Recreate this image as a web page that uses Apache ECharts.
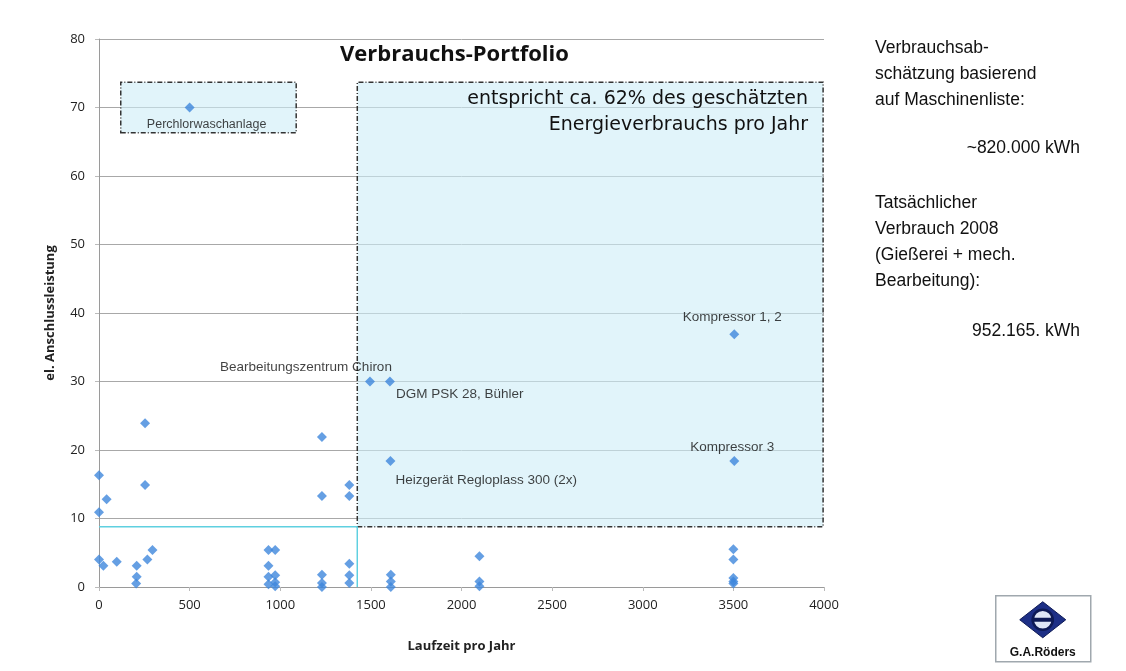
<!DOCTYPE html>
<html>
<head>
<meta charset="utf-8">
<script src="https://cdn.jsdelivr.net/npm/echarts@6/dist/echarts.min.js"></script>
<style>
html,body{margin:0;padding:0;background:#fff;}
#c{width:1126px;height:671px;}
</style>
</head>
<body>
<div id="c"></div>
<script>
// ---- data ----
const runtimeHours = [0, 0, 42, 254, 254, 0, 24, 98, 208, 208, 205, 267, 295,
  935, 972, 935, 935, 972, 935, 972, 972,
  1230, 1230, 1230, 1230, 1230,
  1381, 1381, 1381, 1381, 1381,
  1610, 1610, 1610,
  2099, 2099, 2099,
  3500, 3500, 3500, 3500, 3500];
const powerKW = [16.3, 10.9, 12.8, 23.9, 14.9, 4.0, 3.1, 3.7, 3.1, 1.5, 0.5, 4.0, 5.4,
  5.4, 5.4, 3.1, 1.5, 1.7, 0.4, 0.7, 0.1,
  21.9, 13.3, 1.8, 0.6, 0.0,
  14.9, 13.3, 3.4, 1.7, 0.6,
  1.8, 0.8, 0.0,
  4.5, 0.8, 0.1,
  5.5, 4.0, 1.3, 0.8, 0.5];
const labeledNames = ["Perchlorwaschanlage", "Bearbeitungszentrum Chiron", "DGM PSK 28, Bühler",
  "Heizgerät Regloplass 300 (2x)", "Kompressor 1, 2", "Kompressor 3"];
const labeledRuntime = [500, 1495, 1605, 1608, 3505, 3505];
const labeledPower = [70, 30, 30, 18.4, 36.9, 18.4];
// highlighted regions [x1, y1, x2, y2]
const smallBox = [120, 66.3, 1088, 73.7];
const bigBox = [1425, 8.8, 3995, 73.7];
const thresholdRuntime = 1425;
const thresholdPower = 8.8;
const xTicks = [0, 500, 1000, 1500, 2000, 2500, 3000, 3500, 4000];
const yTicks = [0, 10, 20, 30, 40, 50, 60, 70, 80];

// ---- label styles (offsets from point) ----
const labelStyle = {
  "Perchlorwaschanlage": {align: 'center', offset: [17, 17], fontSize: 12.5},
  "Bearbeitungszentrum Chiron": {align: 'center', offset: [-64, -14]},
  "DGM PSK 28, Bühler": {align: 'left', offset: [6, 13]},
  "Heizgerät Regloplass 300 (2x)": {align: 'left', offset: [5, 19]},
  "Kompressor 1, 2": {align: 'center', offset: [-2, -17]},
  "Kompressor 3": {align: 'center', offset: [-2, -14]}
};

const chart = echarts.init(document.getElementById('c'));
const pts = runtimeHours.map((x, i) => [x, powerKW[i]]);
const labeledPts = labeledNames.map((n, i) => {
  const s = labelStyle[n];
  return {
    name: n,
    value: [labeledRuntime[i], labeledPower[i]],
    label: {
      show: true, formatter: n, position: 'inside',
      align: s.align, verticalAlign: 'middle', offset: s.offset,
      fontFamily: 'Liberation Sans, Arial', fontSize: s.fontSize || 13.5, color: '#111',
      textBorderWidth: 0, textBorderColor: 'transparent'
    }
  };
});

const boxStyle = {
  color: 'rgba(205,236,246,0.6)',
  borderColor: '#333',
  borderWidth: 1.5,
  borderType: [5, 2, 1, 2]
};

const sym = 'diamond';
const blue = '#3f87dc';
const txt = (o) => Object.assign({type: 'text', z: 100}, o);

chart.setOption({
  animation: false,
  grid: {left: 99, right: 302, top: 39, bottom: 84},
  xAxis: {
    type: 'value', min: 0, max: 4000, interval: 500,
    name: 'Laufzeit pro Jahr', nameLocation: 'middle', nameGap: 53,
    nameTextStyle: {fontFamily: 'Open Sans', fontWeight: 'bold', fontSize: 13, color: '#222'},
    axisLine: {show: true, lineStyle: {color: '#9a9a9a'}},
    axisTick: {show: true, length: 4, lineStyle: {color: '#bbb'}},
    axisLabel: {fontFamily: 'Open Sans', fontSize: 13, color: '#222', margin: 12,
      formatter: v => xTicks.includes(v) ? String(v) : ''},
    splitLine: {show: false}
  },
  yAxis: {
    type: 'value', min: 0, max: 80, interval: 10,
    name: 'el. Anschlussleistung', nameLocation: 'middle', nameGap: 42,
    nameTextStyle: {fontFamily: 'Open Sans', fontWeight: 'bold', fontSize: 13, color: '#222'},
    axisLine: {show: true, lineStyle: {color: '#9a9a9a'}},
    axisTick: {show: true, length: 4, lineStyle: {color: '#bbb'}},
    axisLabel: {fontFamily: 'Open Sans', fontSize: 13, color: '#222', margin: 14,
      formatter: v => yTicks.includes(v) ? String(v) : ''},
    splitLine: {show: true, lineStyle: {color: '#a8a8a8', width: 1}}
  },
  graphic: [
    txt({left: 340, top: 44, style: {text: 'Verbrauchs-Portfolio', font: 'bold 22px "Open Sans"', fill: '#111'}}),
    txt({right: 318, top: 90, style: {text: 'entspricht ca. 62% des geschätzten', font: '19px "DejaVu Sans"', fill: '#111', textAlign: 'right'}}),
    txt({right: 318, top: 116, style: {text: 'Energieverbrauchs pro Jahr', font: '19px "DejaVu Sans"', fill: '#111', textAlign: 'right'}}),
    txt({left: 875, top: 35, style: {text: 'Verbrauchsab-\nschätzung basierend\nauf Maschinenliste:', font: '17.5px "Liberation Sans"', lineHeight: 26, fill: '#111'}}),
    txt({right: 46, top: 139, style: {text: '~820.000 kWh', font: '17.5px "Liberation Sans"', fill: '#111', textAlign: 'right'}}),
    txt({left: 875, top: 190, style: {text: 'Tatsächlicher\nVerbrauch 2008\n(Gießerei + mech.\nBearbeitung):', font: '17.5px "Liberation Sans"', lineHeight: 26, fill: '#111'}}),
    txt({right: 46, top: 322, style: {text: '952.165. kWh', font: '17.5px "Liberation Sans"', fill: '#111', textAlign: 'right'}}),
    // logo
    {type: 'group', left: 995, top: 595, z: 100, children: [
      {type: 'rect', shape: {x: 0, y: 0, width: 95, height: 66}, style: {fill: '#fff', stroke: '#a0a8ae', lineWidth: 1.5}},
      {type: 'polygon', shape: {points: [[47, 6], [70, 24], [47, 42], [24, 24]]}, style: {fill: '#1d2f86', stroke: '#0e1a55', lineWidth: 1}},
      {type: 'circle', shape: {cx: 47, cy: 24, r: 10}, style: {fill: '#dfe6f5', stroke: '#0e1a55', lineWidth: 2.5}},
      {type: 'rect', shape: {x: 36, y: 22, width: 22, height: 4}, style: {fill: '#0e1a55'}},
      {type: 'text', style: {x: 47, y: 57, text: 'G.A.Röders', font: 'bold 12px "Liberation Sans"', fill: '#111', textAlign: 'center', textVerticalAlign: 'middle'}}
    ]}
  ],
  series: [
    {
      type: 'scatter', z: 1, silent: true, data: [],
      markArea: {
        silent: true,
        itemStyle: boxStyle,
        data: [
          [{coord: [smallBox[0], smallBox[1]]}, {coord: [smallBox[2], smallBox[3]]}],
          [{coord: [bigBox[0], bigBox[1]]}, {coord: [bigBox[2], bigBox[3]]}]
        ]
      }
    },
    {
      type: 'line', z: 2, symbol: 'none', silent: true,
      lineStyle: {color: '#5fd0e0', width: 1.5},
      data: [[0, thresholdPower], [thresholdRuntime, thresholdPower], [thresholdRuntime, 0]]
    },
    {
      type: 'scatter', symbol: sym, symbolSize: 10, z: 3,
      itemStyle: {color: blue},
      data: pts
    },
    {
      type: 'scatter', symbol: sym, symbolSize: 10, z: 4,
      itemStyle: {color: blue},
      data: labeledPts
    }
  ]
});
</script>
</body>
</html>
